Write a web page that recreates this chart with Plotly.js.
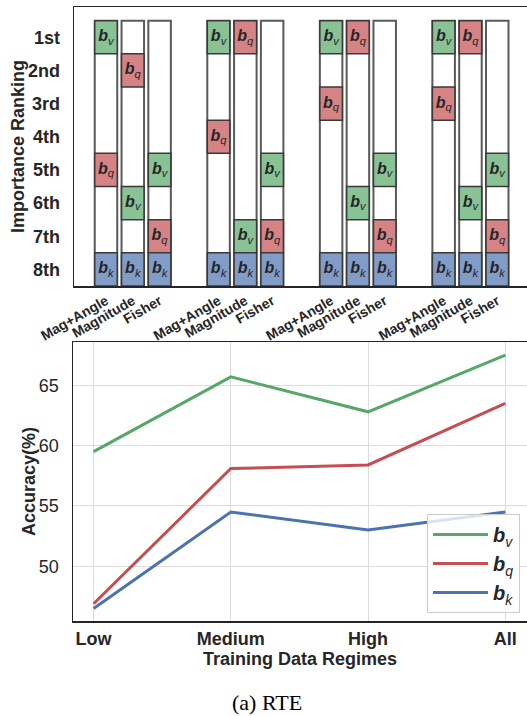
<!DOCTYPE html>
<html>
<head>
<meta charset="utf-8">
<script src="https://cdn.plot.ly/plotly-3.0.1.min.js"></script>
<style>html,body{margin:0;padding:0;background:#fff;}#chart{width:527px;height:716px;}</style>
</head>
<body>
<div id="chart"></div>
<script>
// ---------- data ----------
const methods = ['Mag+Angle', 'Magnitude', 'Fisher'];
const nGroups = 4;
const rankLabels = ['1st', '2nd', '3rd', '4th', '5th', '6th', '7th', '8th'];
// importance rank of each bias term, per column (group 1..4 x method)
const rankV = [1, 6, 5, 1, 7, 5, 1, 6, 5, 1, 6, 5];
const rankQ = [5, 2, 7, 4, 1, 7, 3, 1, 7, 3, 1, 7];
const rankK = [8, 8, 8, 8, 8, 8, 8, 8, 8, 8, 8, 8];

const regimes = ['Low', 'Medium', 'High', 'All'];
const accV = [59.5, 65.7, 62.8, 67.5];
const accQ = [46.9, 58.1, 58.4, 63.5];
const accK = [46.5, 54.5, 53.0, 54.5];

// ---------- styling ----------
const FONT = 'Liberation Sans, Arial, Helvetica, sans-serif';
const TXT = '#262626';
const cGreen = '#55a868', cRed = '#c44e52', cBlue = '#4c72b0';
const fGreen = '#88c295', fRed = '#d68386', fBlue = '#829cc8';
const groupGap = 4.2, cellW = 0.84;

const colX = [], colLabels = [];
for (let g = 0; g < nGroups; g++) {
  for (let i = 0; i < methods.length; i++) {
    colX.push(g * groupGap + i);
    colLabels.push(methods[i]);
  }
}

const lab = s => '<b><i>b</i></b><sub><i>' + s + '</i></sub>';

const traces = [];
// background (white) columns spanning all 8 ranks
traces.push({
  type: 'bar', x: colX, y: colX.map(() => rankLabels.length), base: colX.map(() => 0.5),
  width: cellW, marker: {color: '#ffffff', line: {color: '#5a5a5a', width: 2}},
  xaxis: 'x', yaxis: 'y', showlegend: false, hoverinfo: 'skip'
});
function cellTrace(ranks, fill) {
  return {
    type: 'bar', x: colX, y: ranks.map(() => 1), base: ranks.map(r => r - 0.5),
    width: cellW, marker: {color: fill, line: {color: '#3a3a3a', width: 1.5}},
    xaxis: 'x', yaxis: 'y', showlegend: false, hoverinfo: 'skip'
  };
}
function cellText(ranks, s) {
  return {
    type: 'scatter', mode: 'text', x: colX, y: ranks, text: ranks.map(() => lab(s)),
    textfont: {family: FONT, size: 16, color: TXT}, textposition: 'middle center',
    xaxis: 'x', yaxis: 'y', showlegend: false, hoverinfo: 'skip'
  };
}
traces.push(cellTrace(rankV, fGreen), cellTrace(rankQ, fRed), cellTrace(rankK, fBlue));
traces.push(cellText(rankV, 'v'), cellText(rankQ, 'q'), cellText(rankK, 'k'));

// accuracy lines
const xi = regimes.map((_, i) => i);
function accLine(y, color, s) {
  return {type: 'scatter', mode: 'lines', x: xi, y: y, name: lab(s),
    line: {color: color, width: 3}, xaxis: 'x2', yaxis: 'y2'};
}
traces.push(accLine(accV, cGreen, 'v'), accLine(accQ, cRed, 'q'), accLine(accK, cBlue, 'k'));

const W = 527, H = 716;
const titleFont = {family: FONT, size: 18, color: TXT, weight: 'bold'};
const layout = {
  width: W, height: H,
  margin: {l: 0, r: 0, t: 0, b: 0},
  paper_bgcolor: '#ffffff', plot_bgcolor: '#ffffff',
  font: {family: FONT, color: TXT},
  barmode: 'overlay',
  showlegend: true,
  xaxis: {
    domain: [74 / W, 1], range: [-1.194, 15.71],
    tickvals: colX, ticktext: colLabels, tickangle: -30,
    tickfont: {family: FONT, size: 14, color: TXT, weight: 'bold'},
    ticks: '', ticklabelstandoff: 0,
    showgrid: false, zeroline: false,
    showline: true, linecolor: '#262626', linewidth: 1.5, mirror: true
  },
  yaxis: {
    domain: [1 - 286 / H, 1 - 7 / H], range: [8.5, 0.087],
    tickvals: rankLabels.map((_, i) => i + 1), ticktext: rankLabels,
    tickfont: {family: FONT, size: 18, color: TXT, weight: 'bold'},
    ticks: '', ticklabelstandoff: 9,
    showgrid: false, zeroline: false,
    showline: true, linecolor: '#262626', linewidth: 1.5
  },
  xaxis2: {
    anchor: 'y2',
    domain: [73 / W, 1], range: [-0.15, 3.158],
    tickvals: xi, ticktext: regimes,
    tickfont: {family: FONT, size: 18, color: TXT, weight: 'bold'},
    ticks: '', ticklabelstandoff: 1,
    showgrid: true, gridcolor: '#dcdcdc', gridwidth: 1, zeroline: false,
    showline: true, linecolor: '#262626', linewidth: 1.5, mirror: true,
    title: {text: 'Training Data Regimes', font: titleFont, standoff: 4}
  },
  yaxis2: {
    anchor: 'x2',
    domain: [1 - 621 / H, 1 - 342.3 / H], range: [45.47, 68.56],
    tickvals: [50, 55, 60, 65],
    tickfont: {family: FONT, size: 18, color: TXT},
    ticks: '', ticklabelstandoff: 9,
    showgrid: true, gridcolor: '#dcdcdc', gridwidth: 1, zeroline: false,
    showline: true, linecolor: '#262626', linewidth: 1.5
  },
  legend: {
    x: 520 / W, y: 1 - 613 / H, xanchor: 'right', yanchor: 'bottom',
    bgcolor: 'rgba(255,255,255,0.8)', bordercolor: '#cccccc', borderwidth: 1,
    font: {family: FONT, size: 20, color: TXT}, tracegroupgap: 0, itemwidth: 55
  },
  annotations: [
    {text: 'Importance Ranking', xref: 'paper', yref: 'paper', x: 18 / W, y: 1 - 147 / H,
     textangle: -90, xanchor: 'center', yanchor: 'middle', showarrow: false, font: titleFont},
    {text: 'Accuracy(%)', xref: 'paper', yref: 'paper', x: 29 / W, y: 1 - 482 / H,
     textangle: -90, xanchor: 'center', yanchor: 'middle', showarrow: false, font: titleFont},
    {text: '(a) RTE', xref: 'paper', yref: 'paper', x: 267 / W, y: 1 - 702 / H,
     xanchor: 'center', yanchor: 'middle', showarrow: false,
     font: {family: 'Liberation Serif, Times New Roman, serif', size: 22, color: '#000000'}}
  ]
};

Plotly.newPlot('chart', traces, layout, {displayModeBar: false, staticPlot: true});
</script>
</body>
</html>
